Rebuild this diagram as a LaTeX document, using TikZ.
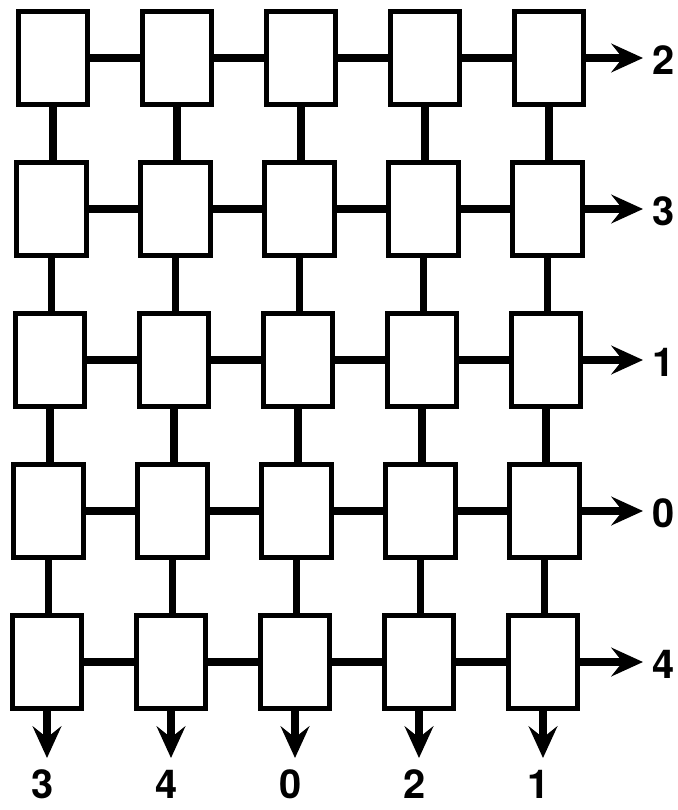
\documentclass[tikz,border=0pt]{standalone}
\usepackage{fontspec}
\setmainfont{TeX Gyre Heros}
\usetikzlibrary{arrows.meta}
\begin{document}
\begin{tikzpicture}[x=0.03cm,y=-0.03cm,
    cell/.style={draw,fill=white,line width=4pt,minimum width=2.08cm,minimum height=2.8cm,inner sep=0pt},
    wire/.style={line width=6.5pt},
    outwire/.style={line width=6.5pt,-{Stealth[length=0.95cm,width=0.86cm,inset=0.34cm]}},
    lbl/.style={font=\bfseries\fontsize{34}{34}\selectfont,inner sep=0pt}]
            \useasboundingbox (0,0) rectangle (678,810);
            % processor cells
            \foreach \r in {0,...,4}
              \foreach \c in {0,...,4}
                \node[cell] (n\r\c) at ({53+124*\c-1.5*\r},{58+151*\r}) {};
            % horizontal links
            \foreach \r in {0,...,4}{
              \foreach \c in {0,...,3}{
                \pgfmathtruncatemacro\cn{\c+1}
                \draw[wire] (n\r\c.east) -- (n\r\cn.west);
              }
            }
            % vertical links
            \foreach \r in {0,...,3}{
              \pgfmathtruncatemacro\rn{\r+1}
              \foreach \c in {0,...,4}
                \draw[wire] (n\r\c.south) -- (n\r\c.south |- n\rn\c.north);
            }
            % outputs on the right
            \foreach \r/\v in {0/2,1/3,2/1,3/0,4/4}{
                \coordinate (e\r) at ({643},{58+151*\r});
                \draw[outwire] (n\r4.east) -- (e\r);
                \node[lbl] (le\r) at ({664},{60+151*\r}) {\v};
            }
            % outputs at the bottom
            \foreach \c/\v in {0/3,1/4,2/0,3/2,4/1}{
                \coordinate (s\c) at ({47+124*\c},{758});
                \draw[outwire] (n4\c.south) -- (s\c);
                \node[lbl] (ls\c) at ({43+124*\c},{784}) {\v};
            }
        \end{tikzpicture}
\end{document}
